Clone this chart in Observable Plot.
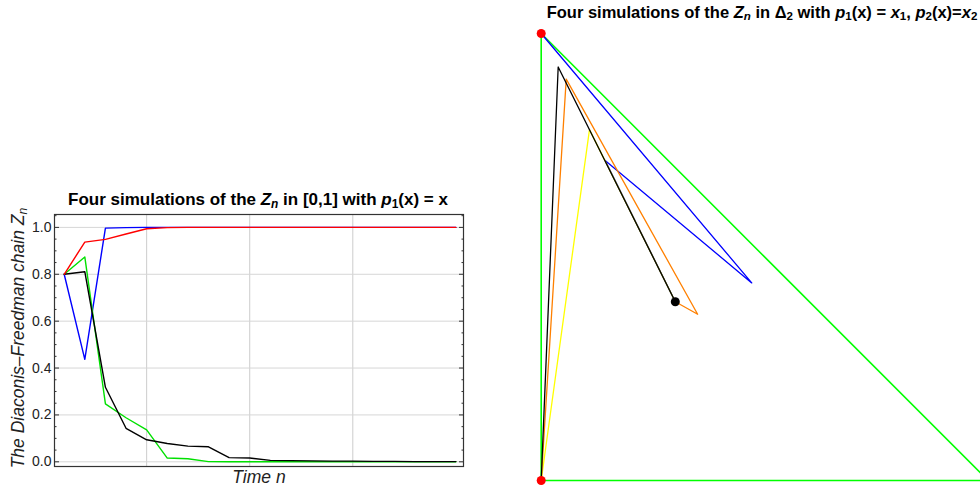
<!DOCTYPE html>
<html>
<head>
<meta charset="utf-8">
<script src="https://cdn.jsdelivr.net/npm/d3@7"></script>
<script src="https://cdn.jsdelivr.net/npm/@observablehq/plot@0.6"></script>
<style>
  html, body { margin: 0; padding: 0; overflow: hidden; background: #fff; }
  #wrap { position: relative; width: 980px; height: 486px; font-family: "Liberation Sans", Arial, sans-serif; }
  .title { position: absolute; font-weight: bold; color: #000; white-space: nowrap; transform: translate(-50%, -50%); }
  .lbl { position: absolute; font-style: italic; font-size: 17.5px; color: #222; white-space: nowrap; }
  sub { font-size: 70%; vertical-align: -0.25em; line-height: 0; }
  #left, #right { position: absolute; }
  #left { left: 0; top: 210px; }
  #right { left: 520px; top: 20px; }
</style>
</head>
<body>
<div id="wrap">
  <div class="title" style="left:258px; top:200px; font-size:17px;">Four simulations of the <i>Z<sub>n</sub></i> in [0,1] with <i>p</i><sub>1</sub>(x) = x</div>
  <div class="title" style="left:762px; top:12px; font-size:16.5px;">Four simulations of the <i>Z<sub>n</sub></i> in Δ<sub>2</sub> with <i>p</i><sub>1</sub>(x) = <i>x</i><sub>1</sub>, <i>p</i><sub>2</sub>(x)=<i>x</i><sub>2</sub></div>
  <div class="lbl" style="left:259px; top:477px; transform:translate(-50%,-50%);">Time n</div>
  <div class="lbl" style="left:18px; top:338px; transform:translate(-50%,-50%) rotate(-90deg);">The Diaconis–Freedman chain <i>Z<sub>n</sub></i></div>
  <div id="left"></div>
  <div id="right"></div>
</div>
<script>
// ---- Left chart data: Z_n in [0,1] ----
const steps = [1,2,3,4,5,6,7,8,9,10,11,12,13,14,15,16,17,18,19,20];
const blueZ  = [0.8,0.437,0.997,0.999,1,1,1,1,1,1,1,1,1,1,1,1,1,1,1,1];
const greenZ = [0.8,0.874,0.247,0.188,0.136,0.016,0.013,0.001,0,0,0,0,0,0,0,0,0,0,0,0];
const blackZ = [0.8,0.811,0.318,0.143,0.094,0.078,0.067,0.064,0.018,0.016,0.006,0.005,0.004,0.003,0.003,0.002,0.002,0.001,0.001,0.001];
const redZ   = [0.8,0.937,0.949,0.972,0.994,0.999,1,1,1,1,1,1,1,1,1,1,1,1,1,1];
const xGrid  = [5,10,15];
const yTicks = [0,0.2,0.4,0.6,0.8,1.0];
const yMinor = [0.05,0.1,0.15,0.25,0.3,0.35,0.45,0.5,0.55,0.65,0.7,0.75,0.85,0.9,0.95,1.05];

// ---- Right chart data: Z_n in the simplex Δ2 ----
const simplexX = [0,1,0,0];
const simplexY = [0,0,1,0];
const yellowX = [0.300,0.108,0];
const yellowY = [0.400,0.785,0];
const blueX   = [0.300,0.143,0.471,0];
const blueY   = [0.400,0.716,0.442,1];
const orangeX = [0.300,0.350,0.056,0];
const orangeY = [0.400,0.372,0.898,0];
const blackX  = [0.300,0.038,0];
const blackY  = [0.400,0.925,0];
const vertexX = [0,0];
const vertexY = [1,0];
const startX  = [0.300];
const startY  = [0.400];

const sw = 1.4;
const left = Plot.plot({
  width: 470, height: 276,
  marginLeft: 54, marginRight: 7, marginTop: 4, marginBottom: 20,
  style: {fontFamily: "Liberation Sans, Arial, sans-serif", fontSize: "14px", color: "#222", background: "transparent"},
  x: {domain: [0.53, 20.37], axis: null},
  y: {domain: [-0.02, 1.055]},
  marks: [
    Plot.gridX(xGrid, {stroke: "#cccccc", strokeOpacity: 1}),
    Plot.gridY(yTicks, {stroke: "#d6d6d6", strokeOpacity: 1}),
    Plot.axisY(yTicks, {anchor: "left", tickSize: 0, tickPadding: 3, tickFormat: d3.format(".1f"), label: null, fontSize: 14}),
    Plot.axisY(yTicks, {anchor: "left", text: null, tickSize: -5, label: null, stroke: "#333"}),
    Plot.axisY(yMinor, {anchor: "left", text: null, tickSize: -2.5, label: null, stroke: "#333"}),
    Plot.axisY(yTicks, {anchor: "right", text: null, tickSize: -5, label: null, stroke: "#333"}),
    Plot.axisY(yMinor, {anchor: "right", text: null, tickSize: -2.5, label: null, stroke: "#333"}),
    Plot.lineY(blueZ,  {x: steps, stroke: "#0000ff", strokeWidth: sw}),
    Plot.lineY(greenZ, {x: steps, stroke: "#00e000", strokeWidth: sw}),
    Plot.lineY(blackZ, {x: steps, stroke: "#000000", strokeWidth: sw}),
    Plot.lineY(redZ,   {x: steps, stroke: "#ff0000", strokeWidth: sw}),
    Plot.frame({stroke: "#333", strokeWidth: 1.2})
  ]
});
document.getElementById("left").appendChild(left);

const right = Plot.plot({
  width: 460, height: 466,
  margin: 0,
  style: {background: "transparent", overflow: "hidden"},
  x: {domain: [0, 1], range: [20.7, 467.7], axis: null},
  y: {domain: [0, 1], range: [460, 13], axis: null},
  marks: [
    Plot.line(simplexX, {x: simplexX, y: simplexY, stroke: "#00ff00", strokeWidth: 1.6}),
    Plot.line(blueX,   {x: blueX,   y: blueY,   stroke: "#0000ff", strokeWidth: 1.3}),
    Plot.line(yellowX, {x: yellowX, y: yellowY, stroke: "#ffff00", strokeWidth: 1.3}),
    Plot.line(orangeX, {x: orangeX, y: orangeY, stroke: "#ff8000", strokeWidth: 1.3}),
    Plot.line(blackX,  {x: blackX,  y: blackY,  stroke: "#000000", strokeWidth: 1.3}),
    Plot.dot(vertexX, {x: vertexX, y: vertexY, r: 4.5, fill: "#ff0000", stroke: null}),
    Plot.dot(startX,  {x: startX,  y: startY,  r: 4.5, fill: "#000000", stroke: null})
  ]
});
document.getElementById("right").appendChild(right);
</script>
</body>
</html>
